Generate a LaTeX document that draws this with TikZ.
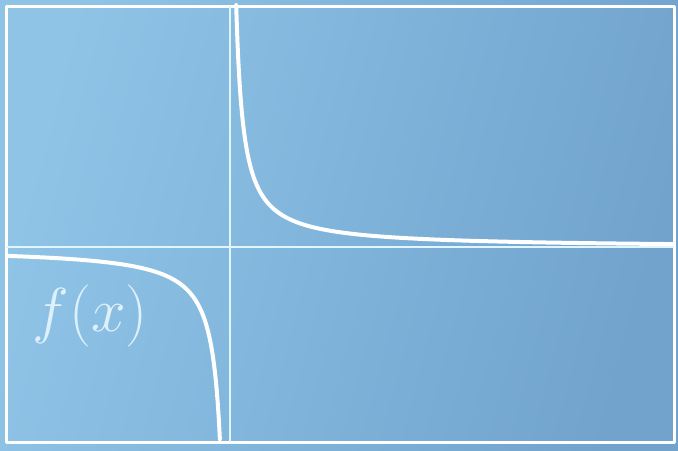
\documentclass[tikz,border=0pt]{standalone}
\usepackage{amsmath}
\usepackage{graphicx}
\usepackage{xcolor}
\usepackage{tikz}
\definecolor{bglight}{RGB}{143,196,231}
\definecolor{bgdark}{RGB}{113,163,205}
\definecolor{axisline}{RGB}{225,245,252}
\definecolor{labeltext}{RGB}{222,240,250}

\begin{document}
\begin{tikzpicture}[x=0.5pt,y=-0.5pt,line join=round]
    \tikzstyle{frame}=[draw=white, line width=1.5pt]
    \tikzstyle{axis}=[draw=axisline, line width=0.9pt]
    \tikzstyle{branch}=[draw=white, line width=2pt, line cap=round]
	\shade[left color=bglight, right color=bgdark, shading angle=75] (0,0) rectangle (678,450);
	\useasboundingbox (0,0) rectangle (678,450);
	\draw[frame] (6,6) rectangle (674,442);
	\coordinate (xl) at (6,247);
	\coordinate (xr) at (674,247);
	\coordinate (yt) at (230,6);
	\coordinate (yb) at (230,442);
	\draw[axis] (xl) -- (xr);
	\draw[axis] (yt) -- (yb);
	% u = x-229, v = 248-y, u v = 1750
	\draw[branch] plot[domain=-1.76:2.365, samples=120, smooth, variable=\t] ({229+41.8*exp(\t)},{248-41.8*exp(-\t)});
	\draw[branch] plot[domain=-1.52:1.67, samples=120, smooth, variable=\t] ({229-41.8*exp(\t)},{248+41.8*exp(-\t)});
	\node[labeltext] (fx) at (90,316) {\scalebox{1.25}{\Huge $f(x)$}};
\end{tikzpicture}
\end{document}
